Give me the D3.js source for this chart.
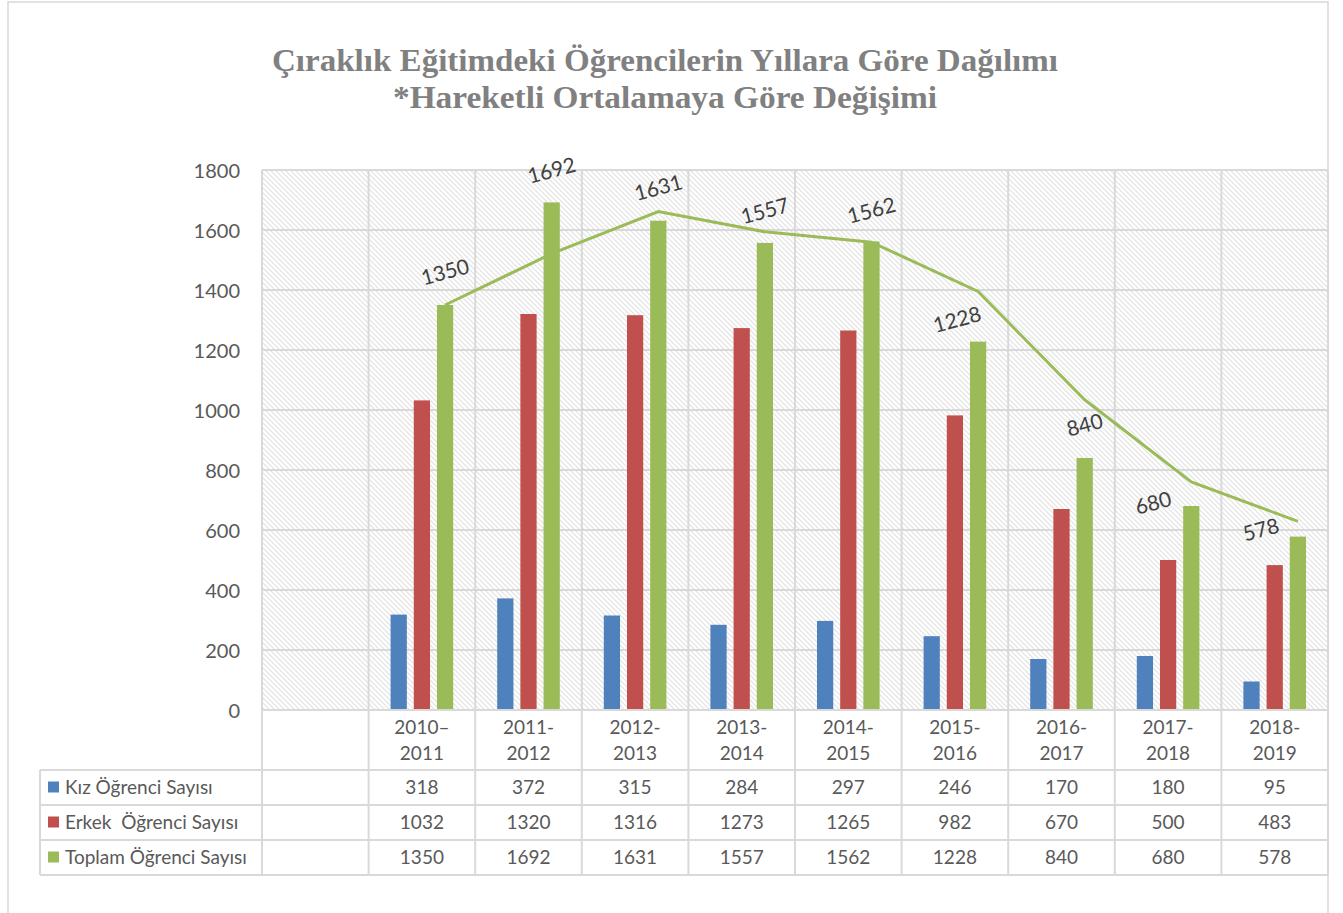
<!DOCTYPE html>
<html><head><meta charset="utf-8">
<script src="https://cdn.jsdelivr.net/npm/d3@7"></script>
<style>body{margin:0;background:#fff}svg{display:block}</style>
</head><body>
<svg id="c" width="1343" height="913"></svg>
<script>
const categories = ["", "2010–\n2011", "2011-\n2012", "2012-\n2013", "2013-\n2014", "2014-\n2015", "2015-\n2016", "2016-\n2017", "2017-\n2018", "2018-\n2019"];
const kiz =    [null, 318, 372, 315, 284, 297, 246, 170, 180, 95];
const erkek =  [null, 1032, 1320, 1316, 1273, 1265, 982, 670, 500, 483];
const toplam = [null, 1350, 1692, 1631, 1557, 1562, 1228, 840, 680, 578];
const movingAvg = [null, 1350, 1521, 1661.5, 1594, 1559.5, 1395, 1034, 760, 629];
const seriesNames = ["Kız Öğrenci Sayısı", "Erkek  Öğrenci Sayısı", "Toplam Öğrenci Sayısı"];
const yTicks = [0, 200, 400, 600, 800, 1000, 1200, 1400, 1600, 1800];
const titleLines = ["Çıraklık Eğitimdeki Öğrencilerin Yıllara Göre Dağılımı", "*Hareketli Ortalamaya Göre Değişimi"];
// label nudges (layout only)
const labelDx = [0, 0, 0, 0, 0, 0, -21, 0, -38, -37];
const labelDy = [0, -33, -32, -33, -32, -31, -22, -33, -3, -7];

const colors = ["#4f81bd", "#c0504d", "#9bbb59"];
const series = [kiz, erkek, toplam];
const svg = d3.select("#c");
const font = "Lato, 'Open Sans', sans-serif";
const grid = "#d9d9d9";

// outer border
svg.append("rect").attr("x", 8).attr("y", 2).attr("width", 1320).attr("height", 920)
  .attr("fill", "#fff").attr("stroke", grid).attr("stroke-width", 1.5);

// title
const tl = [[71, 786], [108, 544]];
titleLines.forEach((t, i) => {
  svg.append("text").attr("x", 665).attr("y", tl[i][0]).attr("text-anchor", "middle")
    .attr("font-family", "'Liberation Serif', serif").attr("font-weight", "bold")
    .attr("font-size", 32).attr("fill", "#808080")
    .attr("textLength", tl[i][1]).attr("lengthAdjust", "spacingAndGlyphs").text(t);
});

const x0 = 262, x1 = 1328, yTop = 170, yBot = 710;
const x = d3.scaleBand().domain(d3.range(categories.length)).range([x0, x1]).padding(0);
const y = d3.scaleLinear().domain([0, 1800]).range([yBot, yTop]);
const xs = d3.scaleBand().domain([0, 1, 2]).range([22, x.bandwidth() - 22]).paddingInner(0.3);

// hatch pattern
const defs = svg.append("defs");
const pat = defs.append("pattern").attr("id", "hatch").attr("patternUnits", "userSpaceOnUse")
  .attr("width", 5).attr("height", 5);
pat.append("rect").attr("width", 5).attr("height", 5).attr("fill", "#fff");
pat.append("path").attr("d", "M-1,-1 L6,6 M-1,4 L1,6 M4,-1 L6,1").attr("stroke", "#e2e2e2").attr("stroke-width", 1.2);
svg.append("rect").attr("x", x0).attr("y", yTop).attr("width", x1 - x0).attr("height", yBot - yTop)
  .attr("fill", "url(#hatch)");

// gridlines
const gY = svg.append("g");
yTicks.forEach(t => {
  gY.append("line").attr("x1", x0).attr("x2", x1).attr("y1", y(t)).attr("y2", y(t))
    .attr("stroke", grid).attr("stroke-width", 2);
});
d3.range(categories.length + 1).forEach(i => {
  const xx = i < categories.length ? x(i) : x1;
  svg.append("line").attr("x1", xx).attr("x2", xx).attr("y1", yTop).attr("y2", 875)
    .attr("stroke", grid).attr("stroke-width", 2);
});

// y axis labels
const yAxis = d3.axisLeft(y).tickValues(yTicks).tickFormat(d3.format("d")).tickSize(0).tickPadding(0);
const ga = svg.append("g").attr("transform", `translate(240,0)`).call(yAxis);
ga.select(".domain").remove();
ga.selectAll("text").attr("font-family", font).attr("font-size", 20).attr("fill", "#595959").attr("dy", "0.35em");

// bars
series.forEach((s, si) => {
  svg.append("g").selectAll("rect").data(s.map((v, i) => ({v, i})).filter(d => d.v != null))
    .join("rect")
    .attr("x", d => x(d.i) + xs(si)).attr("width", xs.bandwidth())
    .attr("y", d => y(d.v)).attr("height", d => y(0) - y(d.v))
    .attr("fill", colors[si]);
});

// moving average line
const line = d3.line().defined(d => d.v != null)
  .x(d => x(d.i) + xs(2) + xs.bandwidth() / 2).y(d => y(d.v));
svg.append("path").datum(movingAvg.map((v, i) => ({v, i})))
  .attr("d", line).attr("fill", "none").attr("stroke", "#9bbb59").attr("stroke-width", 3);

// data labels on totals
toplam.forEach((v, i) => {
  if (v == null) return;
  const cx = x(i) + xs(2) + xs.bandwidth() / 2 + labelDx[i];
  const cy = y(v) + labelDy[i];
  svg.append("text").attr("transform", `translate(${cx},${cy}) rotate(-15)`)
    .attr("text-anchor", "middle").attr("dy", "0.35em")
    .attr("font-family", font).attr("font-size", 21).attr("fill", "#404040").text(v);
});

// data table
const rowY = [770, 805, 840, 875];
svg.append("line").attr("x1", x0).attr("x2", x1).attr("y1", yBot).attr("y2", yBot).attr("stroke", grid).attr("stroke-width", 2);
rowY.forEach(ry => {
  svg.append("line").attr("x1", 40).attr("x2", x1).attr("y1", ry).attr("y2", ry).attr("stroke", grid).attr("stroke-width", 2);
});
svg.append("line").attr("x1", 40).attr("x2", 40).attr("y1", 770).attr("y2", 875).attr("stroke", grid).attr("stroke-width", 2);

// category labels
categories.forEach((c, i) => {
  const parts = c.split("\n");
  parts.forEach((p, k) => {
    if (!p) return;
    svg.append("text").attr("x", x(i) + x.bandwidth() / 2).attr("y", 727 + k * 26)
      .attr("text-anchor", "middle").attr("dy", "0.35em")
      .attr("font-family", font).attr("font-size", 19).attr("fill", "#595959").text(p);
  });
});

// values and legend
series.forEach((s, si) => {
  const cy = (rowY[si] + rowY[si + 1]) / 2;
  svg.append("rect").attr("x", 48).attr("y", cy - 6).attr("width", 11).attr("height", 11).attr("fill", colors[si]);
  svg.append("text").attr("x", 65).attr("y", cy).attr("dy", "0.35em")
    .attr("font-family", font).attr("font-size", 19).attr("fill", "#595959")
    .style("white-space", "pre").text(seriesNames[si]);
  s.forEach((v, i) => {
    if (v == null) return;
    svg.append("text").attr("x", x(i) + x.bandwidth() / 2).attr("y", cy).attr("dy", "0.35em")
      .attr("text-anchor", "middle").attr("font-family", font).attr("font-size", 19)
      .attr("fill", "#595959").text(v);
  });
});
</script>
</body></html>
